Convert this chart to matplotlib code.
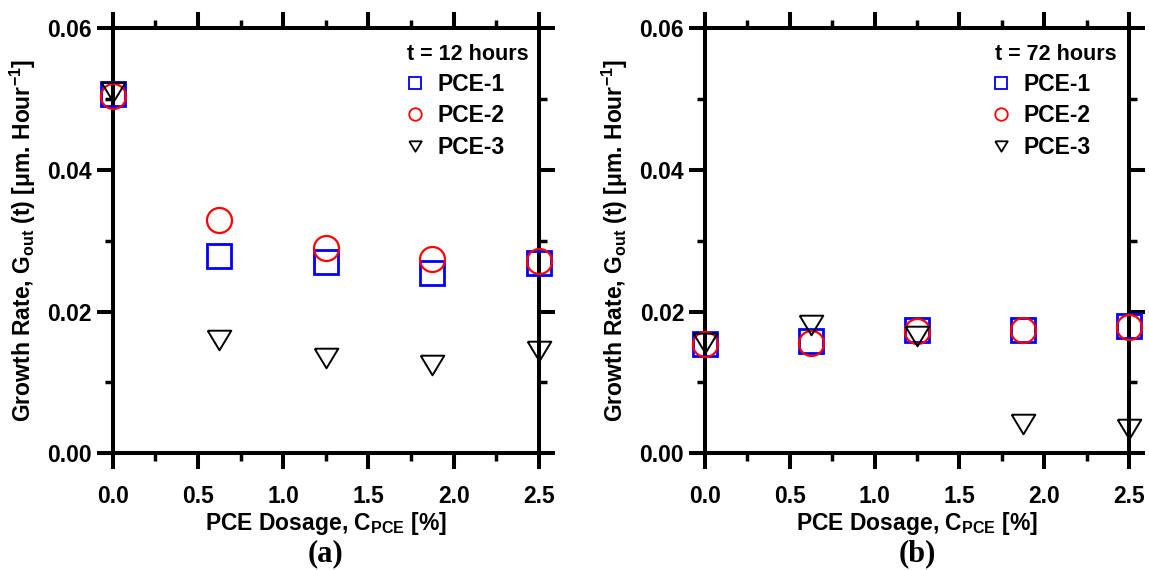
import matplotlib
matplotlib.use("Agg")
import matplotlib.pyplot as plt
from matplotlib.lines import Line2D
from matplotlib.ticker import MultipleLocator, FormatStrFormatter

plt.rcParams['font.family'] = ['Liberation Sans', 'DejaVu Sans']
plt.rcParams['font.weight'] = 'bold'
plt.rcParams['mathtext.fontset'] = 'custom'
plt.rcParams['mathtext.rm'] = 'Liberation Sans:bold'
plt.rcParams['mathtext.bf'] = 'Liberation Sans:bold'
plt.rcParams['mathtext.it'] = 'Liberation Sans:bold'
plt.rcParams['mathtext.default'] = 'rm'

# ---- data ----
dosage = [0.0, 0.625, 1.25, 1.875, 2.5]
series_names = ["PCE-1", "PCE-2", "PCE-3"]

g12_pce1 = [0.0507, 0.0279, 0.0270, 0.0254, 0.0268]
g12_pce2 = [0.0505, 0.0329, 0.0290, 0.0275, 0.0271]
g12_pce3 = [0.0510, 0.0160, 0.0134, 0.0124, 0.0145]

g72_pce1 = [0.0155, 0.0159, 0.0174, 0.0174, 0.0180]
g72_pce2 = [0.0155, 0.0156, 0.0173, 0.0174, 0.0178]
g72_pce3 = [0.0156, 0.0181, 0.0166, 0.0041, 0.0034]

panel_titles = ["t = 12 hours", "t = 72 hours"]
panel_tags = ["(a)", "(b)"]
xticks = [0.0, 0.5, 1.0, 1.5, 2.0, 2.5]
yticks = [0.00, 0.02, 0.04, 0.06]

colors = ["#0000FF", "#FF0000", "#000000"]
tri = [(-1, 0.83), (1, 0.83), (0, -0.83), (-1, 0.83)]
markers = ["s", "o", tri]
msizes = [17, 18, 17]
mews = [2.0, 1.6, 1.4]

fig = plt.figure(figsize=(11.49, 5.70), dpi=100)
W, H = 1149, 570
axes_px = [(112.7, 539.0), (705.0, 1129.0)]
top_px, bot_px = 28.3, 453.3
legend_pos = [(0.682, 0.895), (0.670, 0.895)]
title_pos = [(0.9766, 0.9254), (0.971, 0.9254)]

data = [[g12_pce1, g12_pce2, g12_pce3], [g72_pce1, g72_pce2, g72_pce3]]

for i, (x0, x1) in enumerate(axes_px):
    ax = fig.add_axes([x0 / W, 1 - bot_px / H, (x1 - x0) / W, (bot_px - top_px) / H])
    for j in range(3):
        ax.plot(dosage, data[i][j], linestyle='none', marker=markers[j],
                markersize=msizes[j], markerfacecolor='none',
                markeredgecolor=colors[j], markeredgewidth=mews[j],
                clip_on=False, zorder=5)
    ax.set_xlim(0, 2.5)
    ax.set_ylim(0, 0.06)
    ax.set_xticks(xticks)
    ax.set_yticks(yticks)
    ax.xaxis.set_major_formatter(FormatStrFormatter('%.1f'))
    ax.yaxis.set_major_formatter(FormatStrFormatter('%.2f'))
    ax.xaxis.set_minor_locator(MultipleLocator(0.25))
    ax.yaxis.set_minor_locator(MultipleLocator(0.01))
    for s in ax.spines.values():
        s.set_linewidth(2.9)
    ax.tick_params(which='both', direction='out', top=True, right=True,
                   labeltop=False, labelright=False)
    ax.tick_params(which='major', length=11.5, width=2.9, labelsize=16.5)
    ax.tick_params(which='minor', length=6, width=2.5)
    ax.tick_params(axis='x', which='major', pad=11)
    ax.tick_params(axis='y', which='major', pad=3.5)
    for lab in ax.get_xticklabels() + ax.get_yticklabels():
        lab.set_fontweight('bold')
    ax.set_xlabel(r"PCE Dosage, C$_{\mathrm{PCE}}$ [%]", fontsize=16.5,
                  fontweight='bold', labelpad=1.5)
    ax.set_ylabel(r"Growth Rate, G$_{\mathrm{out}}$ (t) [μm. Hour$^{-1}$]",
                  fontsize=16.5, fontweight='bold', labelpad=7)

    handles = [Line2D([], [], linestyle='none', marker=markers[j], markersize=9,
                      markerfacecolor='none', markeredgecolor=colors[j],
                      markeredgewidth=1.3) for j in range(3)]
    leg = ax.legend(handles, series_names,
                    loc='upper left', bbox_to_anchor=legend_pos[i],
                    frameon=False, fontsize=16.5,
                    handlelength=1.0, handletextpad=0.5, labelspacing=0.37,
                    borderpad=0, borderaxespad=0)
    for t in leg.get_texts():
        t.set_fontweight('bold')
    ax.text(title_pos[i][0], title_pos[i][1], panel_titles[i],
            transform=ax.transAxes, ha='right', va='baseline',
            fontsize=15.5, fontweight='bold')

    fig.text(((x0 + x1) / 2) / W, 1 - 561.5 / H, panel_tags[i],
             family=['Liberation Serif'], fontweight='bold', fontsize=22,
             ha='center', va='baseline')

fig.savefig("out.png", dpi=100)
